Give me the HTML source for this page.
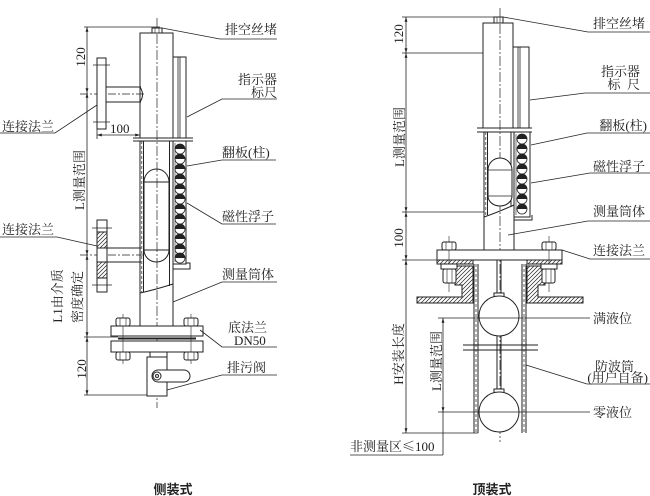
<!DOCTYPE html>
<html><head><meta charset="utf-8">
<style>
html,body{margin:0;padding:0;background:#fff;}
svg{display:block;}
text{font-family:"Liberation Serif","Noto Serif CJK SC",serif;font-size:13px;fill:#222;}
.cap{font-family:"Liberation Sans","Noto Sans CJK SC",sans-serif;font-weight:bold;font-size:13px;}
.cjk{font-family:"Noto Serif CJK SC",serif;}
</style></head><body>
<svg width="650" height="496" viewBox="0 0 650 496" xmlns="http://www.w3.org/2000/svg">
<defs>
<pattern id="h" width="4" height="4" patternUnits="userSpaceOnUse"><path d="M-1,1 l2,-2 M0,4 l4,-4 M3,5 l2,-2" stroke="#222" stroke-width="0.7"/></pattern>
<marker id="a" viewBox="0 0 10 10" refX="10" refY="5" markerWidth="6" markerHeight="6" orient="auto-start-reverse"><path d="M0,2 L10,5 L0,8z" fill="#222"/></marker>
<g id="ball"><circle r="5" fill="#fff" stroke="#222" stroke-width="0.8"/><path d="M-5,0 a5,5 0 0 1 10,0z" fill="#222"/></g>
</defs>
<rect width="650" height="496" fill="#fff"/>

<!-- ============ LEFT: 侧装式 ============ -->
<g stroke="#222" stroke-width="1" fill="none">
  <line x1="84" y1="27" x2="160" y2="27" stroke-width="0.8"/>
  <line x1="84" y1="337" x2="118" y2="337" stroke-width="0.8"/>
  <line x1="84" y1="395" x2="150" y2="395" stroke-width="0.8"/>
  <line x1="87" y1="27" x2="87" y2="93" stroke-width="0.8" marker-start="url(#a)" marker-end="url(#a)"/>
  <line x1="87" y1="93" x2="87" y2="255" stroke-width="0.8" marker-start="url(#a)" marker-end="url(#a)"/>
  <line x1="87" y1="255" x2="87" y2="337" stroke-width="0.8" marker-start="url(#a)" marker-end="url(#a)"/>
  <line x1="87" y1="337" x2="87" y2="395" stroke-width="0.8" marker-start="url(#a)" marker-end="url(#a)"/>
  <line x1="97" y1="129" x2="97" y2="139" stroke-width="0.8"/>
  <line x1="97" y1="135" x2="140" y2="135" stroke-width="0.8" marker-start="url(#a)" marker-end="url(#a)"/>

  <line x1="157" y1="18" x2="157" y2="408" stroke-width="0.7" stroke-dasharray="10 2 2 2"/>
  <line x1="80" y1="94" x2="146" y2="94" stroke-width="0.7" stroke-dasharray="8 2 2 2"/>
  <line x1="80" y1="255" x2="146" y2="255" stroke-width="0.7" stroke-dasharray="8 2 2 2"/>

  <rect x="140" y="33" width="33" height="105"/>
  <rect x="152" y="28" width="10" height="5" fill="#fff"/>
  <line x1="155" y1="28" x2="155" y2="33" stroke-width="0.6"/>
  <line x1="159" y1="28" x2="159" y2="33" stroke-width="0.6"/>
  <rect x="173" y="57" width="13" height="81"/>
  <line x1="178" y1="57" x2="178" y2="138" stroke-width="0.8"/>
  <line x1="180" y1="57" x2="180" y2="138" stroke-width="0.8"/>
  <line x1="133" y1="138" x2="193" y2="138"/>
  <line x1="133" y1="141" x2="193" y2="141"/>

  <rect x="97" y="58" width="9" height="71" fill="#fff"/>
  <line x1="93" y1="65" x2="110" y2="65" stroke-width="0.7"/>
  <line x1="93" y1="122" x2="110" y2="122" stroke-width="0.7"/>
  <line x1="106" y1="87" x2="141" y2="87"/>
  <line x1="106" y1="102" x2="141" y2="102"/>
  <path d="M140,87 q5,7.5 0,15"/>

  <line x1="140" y1="141" x2="140" y2="326"/>
  <line x1="173" y1="141" x2="173" y2="326"/>
  <line x1="143.5" y1="141" x2="143.5" y2="292"/>
  <line x1="141.8" y1="141" x2="141.8" y2="292" stroke-width="0.7" stroke-dasharray="3 2"/>
  <line x1="169.5" y1="141" x2="169.5" y2="286"/>
  <path d="M140,293 q14,-3 33,-9"/>

  <rect x="173" y="141" width="13" height="123" fill="#fff"/>
  <line x1="175" y1="143" x2="175" y2="262" stroke-width="0.6"/>
  <path d="M173,264 L173,269 L190,269 L190,263 L186,263"/>

  <path d="M144,182 a12.5,13 0 0 1 25,0"/>
  <rect x="144" y="182" width="25" height="68"/>
  <path d="M144,250 a12.5,12 0 0 0 25,0"/>

  <rect x="97" y="220" width="10" height="72" fill="#fff"/>
  <rect x="97" y="232" width="10" height="16" fill="url(#h)"/>
  <rect x="97" y="262" width="10" height="16" fill="url(#h)"/>
  <line x1="92" y1="228" x2="112" y2="228" stroke-width="0.7"/>
  <line x1="92" y1="285" x2="112" y2="285" stroke-width="0.7"/>
  <line x1="107" y1="248" x2="141" y2="248"/>
  <line x1="107" y1="262" x2="141" y2="262"/>

  <rect x="111" y="326" width="92" height="10" fill="#fff"/>
  <rect x="111" y="341" width="92" height="11" fill="#fff"/>
  <rect x="118" y="337.5" width="78" height="2" fill="#222" stroke="none"/>
  <line x1="123" y1="314" x2="123" y2="364" stroke-width="0.6"/>
  <line x1="191" y1="314" x2="191" y2="364" stroke-width="0.6"/>
  <rect x="116" y="318" width="14" height="8" rx="2" fill="#fff"/>
  <rect x="184" y="318" width="14" height="8" rx="2" fill="#fff"/>
  <rect x="116" y="352" width="14" height="8" rx="2" fill="#fff"/>
  <rect x="184" y="352" width="14" height="8" rx="2" fill="#fff"/>
  <line x1="120" y1="318" x2="120" y2="326" stroke-width="0.6"/>
  <line x1="126" y1="318" x2="126" y2="326" stroke-width="0.6"/>
  <line x1="188" y1="318" x2="188" y2="326" stroke-width="0.6"/>
  <line x1="194" y1="318" x2="194" y2="326" stroke-width="0.6"/>
  <line x1="120" y1="352" x2="120" y2="360" stroke-width="0.6"/>
  <line x1="126" y1="352" x2="126" y2="360" stroke-width="0.6"/>
  <line x1="188" y1="352" x2="188" y2="360" stroke-width="0.6"/>
  <line x1="194" y1="352" x2="194" y2="360" stroke-width="0.6"/>

  <rect x="150" y="352" width="17" height="5" fill="#fff"/>
  <rect x="147" y="357" width="20" height="39" fill="#fff"/>
  <rect x="152" y="370" width="38" height="12" rx="6" fill="#fff"/>
  <circle cx="157" cy="376" r="4"/>
  <circle cx="157" cy="376" r="1.5"/>

  <g stroke-width="0.8">
    <polyline points="162,28 220,39 277,39"/>
    <polyline points="187,117 222,99 277,99"/>
    <polyline points="187,166 222,160 276,160"/>
    <polyline points="187,203 222,224 276,224"/>
    <polyline points="173,302 222,282 277,282"/>
    <polyline points="200,330 222,347 277,347"/>
    <polyline points="167,390 222,375 277,375"/>
    <polyline points="0,133 55,133 97,105"/>
    <polyline points="0,237 57,237 97,246"/>
  </g>
</g>
<g>
  <use href="#ball" x="180" y="149"/>
  <use href="#ball" x="180" y="159"/>
  <use href="#ball" x="180" y="169"/>
  <use href="#ball" x="180" y="179"/>
  <use href="#ball" x="180" y="189"/>
  <use href="#ball" x="180" y="199"/>
  <use href="#ball" x="180" y="209"/>
  <use href="#ball" x="180" y="219"/>
  <use href="#ball" x="180" y="229"/>
  <use href="#ball" x="180" y="239"/>
  <use href="#ball" x="180" y="249"/>
  <use href="#ball" x="180" y="258"/>
</g>

<text x="225" y="34">排空丝堵</text>
<text x="277" y="84" text-anchor="end">指示器</text>
<text x="277" y="97" text-anchor="end">标尺</text>
<text x="222" y="157">翻板(柱)</text>
<text x="222" y="221">磁性浮子</text>
<text x="222" y="279">测量筒体</text>
<text x="228" y="332">底法兰</text>
<text x="234" y="345">DN50</text>
<text x="227" y="372">排污阀</text>
<text x="2" y="131">连接法兰</text>
<text x="2" y="234">连接法兰</text>
<text x="110" y="133">100</text>
<text transform="translate(85,57) rotate(-90)" text-anchor="middle">120</text>
<text transform="translate(84,180) rotate(-90)" text-anchor="middle">L测量范围</text>
<text transform="translate(62,296) rotate(-90)" text-anchor="middle">L1由介质</text>
<text transform="translate(82,297) rotate(-90)" text-anchor="middle">密度确定</text>
<text transform="translate(86,369) rotate(-90)" text-anchor="middle">120</text>
<text class="cap" x="173" y="494" text-anchor="middle">侧装式</text>

<!-- ============ RIGHT: 顶装式 ============ -->
<g stroke="#222" stroke-width="1" fill="none">
  <line x1="402" y1="17" x2="495" y2="17" stroke-width="0.8"/>
  <line x1="402" y1="53" x2="483" y2="53" stroke-width="0.8"/>
  <line x1="402" y1="212" x2="484" y2="212" stroke-width="0.8"/>
  <line x1="402" y1="260" x2="437" y2="260" stroke-width="0.8"/>
  <line x1="402" y1="433" x2="478" y2="433" stroke-width="0.8"/>
  <line x1="406" y1="17" x2="406" y2="53" stroke-width="0.8" marker-start="url(#a)" marker-end="url(#a)"/>
  <line x1="406" y1="53" x2="406" y2="212" stroke-width="0.8" marker-start="url(#a)" marker-end="url(#a)"/>
  <line x1="406" y1="212" x2="406" y2="260" stroke-width="0.8" marker-start="url(#a)" marker-end="url(#a)"/>
  <line x1="406" y1="260" x2="406" y2="433" stroke-width="0.8" marker-start="url(#a)" marker-end="url(#a)"/>
  <line x1="443" y1="318" x2="443" y2="412" stroke-width="0.8" marker-start="url(#a)" marker-end="url(#a)"/>
  <line x1="443" y1="412" x2="443" y2="455" stroke-width="0.8"/>
  <line x1="350" y1="455" x2="443" y2="455" stroke-width="0.8"/>

  <line x1="500" y1="8" x2="500" y2="442" stroke-width="0.7" stroke-dasharray="10 2 2 2"/>

  <rect x="483" y="23" width="30" height="105"/>
  <rect x="494" y="17" width="9" height="6" fill="#fff"/>
  <line x1="497" y1="17" x2="497" y2="23" stroke-width="0.6"/>
  <line x1="500" y1="17" x2="500" y2="23" stroke-width="0.6"/>
  <rect x="513" y="47" width="16" height="81" fill="#fff"/>
  <line x1="518" y1="47" x2="518" y2="128" stroke-width="0.8"/>
  <line x1="520" y1="47" x2="520" y2="128" stroke-width="0.8"/>
  <line x1="477" y1="128" x2="532" y2="128"/>
  <line x1="477" y1="132" x2="532" y2="132"/>

  <line x1="484" y1="132" x2="484" y2="250"/>
  <line x1="514" y1="132" x2="514" y2="250"/>
  <line x1="487.5" y1="132" x2="487.5" y2="215"/>
  <line x1="485.8" y1="132" x2="485.8" y2="215" stroke-width="0.7" stroke-dasharray="3 2"/>
  <line x1="511" y1="132" x2="511" y2="207"/>
  <path d="M484,217 q12,-4 30,-12"/>
  <rect x="514" y="132" width="16" height="85" fill="#fff"/>
  <line x1="516" y1="134" x2="516" y2="215" stroke-width="0.6"/>
  <path d="M514,217 L514,220 L532,220 L532,215"/>
  <path d="M488,170 a12,12 0 0 1 24,0 L512,196 a12,10 0 0 1 -24,0z" fill="#fff"/>
  <line x1="488" y1="170" x2="512" y2="170" stroke-width="0.7"/>
  <line x1="488" y1="196" x2="512" y2="196" stroke-width="0.7"/>

  <rect x="437" y="250" width="125" height="10" fill="#fff"/>
  <line x1="449" y1="236" x2="449" y2="292" stroke-width="0.6"/>
  <line x1="549" y1="236" x2="549" y2="292" stroke-width="0.6"/>
  <rect x="442" y="242" width="14" height="8" rx="2" fill="#fff"/>
  <rect x="542" y="242" width="14" height="8" rx="2" fill="#fff"/>
  <line x1="446" y1="242" x2="446" y2="250" stroke-width="0.6"/>
  <line x1="452" y1="242" x2="452" y2="250" stroke-width="0.6"/>
  <line x1="546" y1="242" x2="546" y2="250" stroke-width="0.6"/>
  <line x1="552" y1="242" x2="552" y2="250" stroke-width="0.6"/>
  <rect x="437" y="260" width="36" height="4" fill="url(#h)"/>
  <rect x="527" y="260" width="35" height="4" fill="url(#h)"/>
  <path d="M455,266 L473,266 L473,303 L417,303 L417,297 L462,297 L462,285 L455,285z" fill="url(#h)"/>
  <path d="M545,266 L527,266 L527,303 L583,303 L583,297 L538,297 L538,285 L545,285z" fill="url(#h)"/>
  <rect x="441" y="264" width="16" height="5" fill="#fff"/>
  <rect x="443" y="269" width="13" height="14" rx="2" fill="#fff"/>
  <rect x="541" y="264" width="16" height="5" fill="#fff"/>
  <rect x="542" y="269" width="13" height="14" rx="2" fill="#fff"/>
  <line x1="447" y1="269" x2="447" y2="283" stroke-width="0.6"/>
  <line x1="452" y1="269" x2="452" y2="283" stroke-width="0.6"/>
  <line x1="546" y1="269" x2="546" y2="283" stroke-width="0.6"/>
  <line x1="551" y1="269" x2="551" y2="283" stroke-width="0.6"/>

  <line x1="474" y1="264" x2="474" y2="433"/>
  <line x1="478" y1="264" x2="478" y2="433"/>
  <line x1="476" y1="264" x2="476" y2="433" stroke-width="0.7" stroke-dasharray="3 2"/>
  <line x1="522" y1="264" x2="522" y2="433"/>
  <line x1="526" y1="264" x2="526" y2="433"/>
  <line x1="524" y1="264" x2="524" y2="433" stroke-width="0.7" stroke-dasharray="3 2"/>

  <line x1="497" y1="260" x2="497" y2="294"/>
  <line x1="501" y1="260" x2="501" y2="294"/>
  <rect x="494" y="293" width="10" height="4" fill="#fff"/>
  <circle cx="499" cy="316" r="20" fill="#fff"/>
  <line x1="497" y1="336" x2="497" y2="391"/>
  <line x1="501" y1="336" x2="501" y2="391"/>
  <rect x="494" y="389" width="10" height="4" fill="#fff"/>
  <circle cx="499" cy="412" r="20" fill="#fff"/>
  <line x1="463" y1="345" x2="538" y2="345"/>
  <line x1="463" y1="350" x2="538" y2="350"/>
  <line x1="438" y1="318" x2="590" y2="318" stroke-width="0.8"/>
  <line x1="438" y1="412" x2="590" y2="412" stroke-width="0.8"/>

  <g stroke-width="0.8">
    <polyline points="503,17 588,32 650,32"/>
    <polyline points="530,100 585,93 650,93"/>
    <polyline points="531,145 587,133 650,133"/>
    <polyline points="531,183 590,173 650,173"/>
    <polyline points="508,235 588,221 650,221"/>
    <polyline points="562,250 590,259 650,259"/>
    <polyline points="526,365 587,384 650,384"/>
  </g>
</g>
<g>
  <use href="#ball" x="522" y="139"/>
  <use href="#ball" x="522" y="149"/>
  <use href="#ball" x="522" y="159"/>
  <use href="#ball" x="522" y="169"/>
  <use href="#ball" x="522" y="179"/>
  <use href="#ball" x="522" y="189"/>
  <use href="#ball" x="522" y="199"/>
  <use href="#ball" x="522" y="209"/>
</g>

<text x="645" y="28" text-anchor="end">排空丝堵</text>
<text x="640" y="76" text-anchor="end">指示器</text>
<text x="640" y="89" text-anchor="end">标&#160;&#160;尺</text>
<text x="647" y="130" text-anchor="end">翻板(柱)</text>
<text x="645" y="171" text-anchor="end">磁性浮子</text>
<text x="645" y="216" text-anchor="end">测量筒体</text>
<text x="645" y="255" text-anchor="end">连接法兰</text>
<text x="593" y="323">满液位</text>
<text x="593" y="417">零液位</text>
<text x="634" y="371" text-anchor="end">防波筒</text>
<text x="648" y="382" text-anchor="end">(用户自备)</text>
<text x="350" y="451">非测量区<tspan class="cjk">≤</tspan>100</text>
<text transform="translate(403,34) rotate(-90)" text-anchor="middle">120</text>
<text transform="translate(404,137) rotate(-90)" text-anchor="middle">L测量范围</text>
<text transform="translate(403,238) rotate(-90)" text-anchor="middle">100</text>
<text transform="translate(403,354) rotate(-90)" text-anchor="middle">H安装长度</text>
<text transform="translate(441,361) rotate(-90)" text-anchor="middle">L测量范围</text>
<text class="cap" x="492" y="494" text-anchor="middle">顶装式</text>
</svg>
</body></html>
